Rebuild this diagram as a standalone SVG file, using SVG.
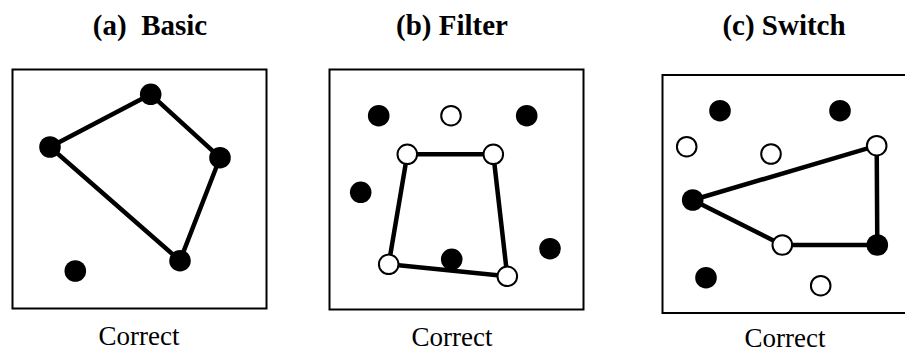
<svg xmlns="http://www.w3.org/2000/svg" width="905" height="352" viewBox="0 0 905 352">
<style>
.title{font-family:"Liberation Serif","Times New Roman",serif;font-weight:bold;font-size:29px;text-anchor:middle;fill:#000}
.cap{font-family:"Liberation Serif","Times New Roman",serif;font-size:27px;text-anchor:middle;fill:#000}
.box{fill:#fff;stroke:#000;stroke-width:2}
.e{stroke:#000;stroke-width:4.5;fill:none;stroke-linecap:round}
.f{fill:#000}
.o{fill:#fff;stroke:#000;stroke-width:2}
</style>
<rect width="905" height="352" fill="#fff"/>
<g id="panel-a">
<text class="title" x="150" y="35" xml:space="preserve">(a)  Basic</text>
<rect class="box" x="12.5" y="69.5" width="254" height="239"/>
<text class="cap" x="139" y="345">Correct</text>
</g>
<g id="panel-b">
<text class="title" x="452" y="35">(b) Filter</text>
<rect class="box" x="329.5" y="69.5" width="254" height="240"/>
<text class="cap" x="452" y="346">Correct</text>
</g>
<g id="panel-c">
<text class="title" x="784" y="35">(c) Switch</text>
<rect class="box" x="662.5" y="75" width="260" height="238"/>
<text class="cap" x="785" y="346.5">Correct</text>
</g>
<g id="connectors">
<polygon class="e" points="150.7,94.3 220,157.7 180,260.7 50,147"/>
<polygon class="e" points="407.3,154.3 493.3,154.3 507.3,276.3 388.7,264.3"/>
<polygon class="e" points="692.7,200 876.7,145.7 877.3,245 782.3,245"/>
</g>
<g id="nodes-a">
<circle id="a1" class="f" cx="150.7" cy="94.3" r="10.8"/>
<circle id="a2" class="f" cx="50" cy="147" r="10.8"/>
<circle id="a3" class="f" cx="220" cy="157.7" r="10.8"/>
<circle id="a4" class="f" cx="180" cy="260.7" r="10.8"/>
<circle id="a5" class="f" cx="75.3" cy="271" r="10.8"/>
</g>
<g id="nodes-b">
<circle id="b1" class="f" cx="378.7" cy="115.7" r="10.8"/>
<circle id="b2" class="o" cx="451" cy="115.7" r="9.8"/>
<circle id="b3" class="f" cx="526.7" cy="115.7" r="10.8"/>
<circle id="b4" class="o" cx="407.3" cy="154.3" r="9.8"/>
<circle id="b5" class="o" cx="493.3" cy="154.3" r="9.8"/>
<circle id="b6" class="f" cx="360.7" cy="192.3" r="10.8"/>
<circle id="b7" class="o" cx="388.7" cy="264.3" r="9.8"/>
<circle id="b8" class="f" cx="451.7" cy="259.3" r="10.8"/>
<circle id="b9" class="o" cx="507.3" cy="276.3" r="9.8"/>
<circle id="b10" class="f" cx="550" cy="248.7" r="10.8"/>
</g>
<g id="nodes-c">
<circle id="c1" class="f" cx="720" cy="110.7" r="10.8"/>
<circle id="c2" class="f" cx="840" cy="110.7" r="10.8"/>
<circle id="c3" class="o" cx="686.7" cy="146.7" r="9.8"/>
<circle id="c4" class="o" cx="771" cy="154" r="9.8"/>
<circle id="c5" class="o" cx="876.7" cy="145.7" r="9.8"/>
<circle id="c6" class="f" cx="692.7" cy="200" r="10.8"/>
<circle id="c7" class="o" cx="782.3" cy="245" r="9.8"/>
<circle id="c8" class="f" cx="877.3" cy="245" r="10.8"/>
<circle id="c9" class="f" cx="706" cy="277.7" r="10.8"/>
<circle id="c10" class="o" cx="820.7" cy="285.7" r="9.8"/>
</g>
</svg>
